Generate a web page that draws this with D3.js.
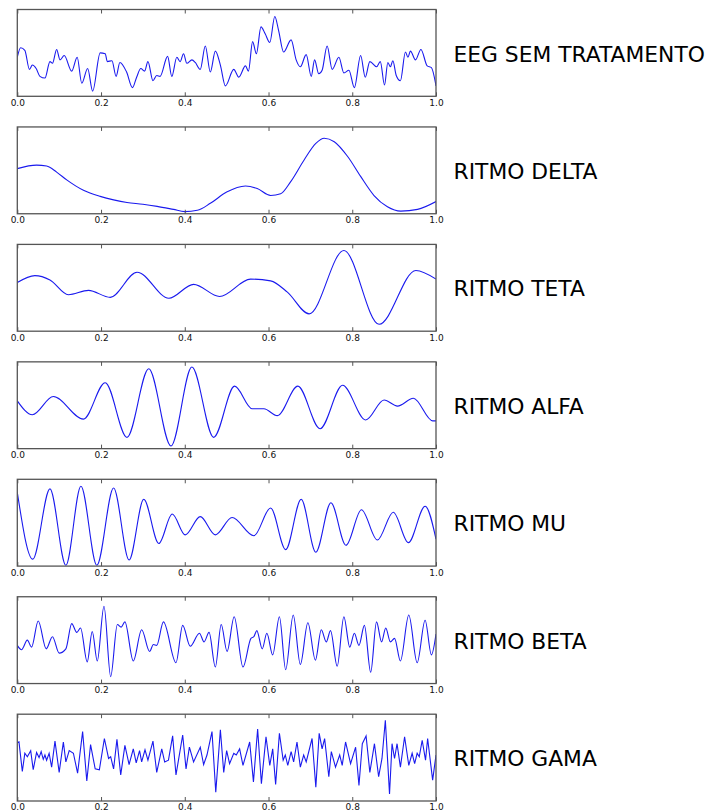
<!DOCTYPE html>
<html>
<head>
<meta charset="utf-8">
<script src="https://cdn.jsdelivr.net/npm/d3@7"></script>
<style>
html,body{margin:0;padding:0;background:#fff;}
svg{display:block;}
</style>
</head>
<body>
<svg id="chart" width="707" height="812"></svg>
<script>
// ---- data (t in [0,1], amplitude in relative units 0-100) ----
const titles = ["EEG SEM TRATAMENTO","RITMO DELTA","RITMO TETA","RITMO ALFA","RITMO MU","RITMO BETA","RITMO GAMA"];
const xTicks = [0.0,0.2,0.4,0.6,0.8,1.0];

const eeg = [[0,45],[.008,56],[.018,53],[.029,31],[.036,36],[.045,32],[.054,23],[.066,21],[.078,40],[.084,38],[.094,54],[.102,42],[.112,47],[.130,29],[.143,45],[.154,15],[.168,32],[.180,6],[.198,50],[.210,49],[.215,40],[.226,41],[.236,23],[.245,39],[.261,28],[.275,10],[.285,22],[.295,32],[.304,29],[.312,40],[.324,18],[.333,24],[.341,23],[.359,46],[.369,23],[.381,45],[.389,40],[.397,49],[.405,38],[.417,42],[.425,39],[.437,31],[.449,58],[.461,28],[.473,52],[.485,36],[.497,12],[.517,31],[.529,22],[.545,35],[.552,29],[.562,63],[.571,49],[.582,80],[.592,72],[.603,62],[.615,92],[.624,76],[.636,51],[.654,65],[.666,42],[.676,34],[.690,48],[.702,23],[.710,42],[.720,26],[.728,30],[.740,58],[.752,31],[.768,45],[.780,27],[.792,30],[.805,10],[.820,47],[.831,22],[.842,40],[.858,34],[.867,40],[.877,13],[.885,39],[.891,34],[.897,41],[.905,24],[.915,18],[.927,51],[.933,45],[.939,52],[.951,42],[.964,54],[.979,35],[.989,33],[1,12]];

const delta = [[0,52],[.046,56],[.07,55],[.094,48],[.118,39],[.158,27],[.198,20],[.23,16],[.262,13],[.30,11],[.334,8.5],[.373,5],[.40,2.5],[.43,4],[.461,12],[.50,25],[.545,32],[.573,29],[.605,21],[.629,23],[.653,37],[.685,62],[.713,81],[.733,87],[.757,83],[.789,66],[.82,43],[.852,21],[.884,8],[.916,3],[.956,5],[1,14]];

const teta = [[0,56],[.042,64],[.078,59],[.122,42],[.17,47],[.222,39],[.286,68],[.362,38],[.421,54],[.483,40],[.557,60],[.605,58],[.645,45],[.697,20],[.78,93],[.864,8],[.952,70],[1,60]];

const alfa = [[0,55],[.036,39],[.086,60],[.158,34],[.21,76],[.262,13],[.314,92],[.367,3],[.417,94],[.469,13],[.519,72],[.561,46],[.589,46],[.621,38],[.67,72],[.723,23],[.777,73],[.832,33],[.876,56],[.908,49],[.946,58],[.992,32],[1,32]];

const mu = [[0,85],[.037,8],[.078,89],[.116,1],[.152,92],[.19,1],[.23,90],[.267,7],[.302,77],[.338,26],[.37,60],[.401,36],[.437,57],[.473,36],[.513,56],[.565,35],[.605,67],[.641,19],[.678,77],[.713,16],[.749,73],[.785,24],[.822,65],[.86,30],[.898,62],[.934,27],[.974,69],[1,31]];

const beta = [[0,44],[.010,39],[.024,50],[.034,42],[.050,72],[.069,40],[.084,54],[.100,35],[.116,40],[.130,69],[.142,59],[.151,64],[.167,25],[.179,60],[.191,26],[.207,89],[.223,8],[.239,68],[.248,65],[.257,71],[.277,26],[.297,62],[.316,37],[.325,45],[.333,44],[.349,71],[.379,24],[.395,67],[.413,43],[.435,58],[.446,48],[.458,59],[.473,19],[.487,68],[.501,37],[.518,77],[.539,19],[.558,52],[.565,54],[.572,61],[.585,40],[.596,58],[.610,33],[.626,77],[.641,16],[.659,79],[.676,22],[.694,70],[.712,27],[.726,62],[.738,48],[.748,61],[.764,20],[.780,77],[.794,42],[.805,58],[.816,44],[.829,67],[.844,13],[.858,71],[.870,48],[.880,64],[.891,48],[.901,52],[.915,26],[.935,79],[.955,24],[.974,73],[.989,33],[1,57]];

const gama = [[0,67],[.004,68],[.012,34],[.018,55],[.024,51],[.032,58],[.038,36],[.046,56],[.052,50],[.057,57],[.062,48],[.066,53],[.070,47],[.076,55],[.082,39],[.090,69],[.100,33],[.110,68],[.116,45],[.124,58],[.134,55],[.144,32],[.156,80],[.166,23],[.175,65],[.186,37],[.196,36],[.208,72],[.218,49],[.223,51],[.230,37],[.238,71],[.247,30],[.257,64],[.267,42],[.277,60],[.284,44],[.292,58],[.297,45],[.305,59],[.312,47],[.324,69],[.333,33],[.345,60],[.352,45],[.361,47],[.371,75],[.379,30],[.395,76],[.403,37],[.411,62],[.421,45],[.437,62],[.445,42],[.453,53],[.465,80],[.474,10],[.485,82],[.493,33],[.500,58],[.507,43],[.517,55],[.523,53],[.531,60],[.539,41],[.555,68],[.564,22],[.574,83],[.583,20],[.594,74],[.603,41],[.610,60],[.617,19],[.626,78],[.635,47],[.640,53],[.646,41],[.654,57],[.660,45],[.668,68],[.676,39],[.684,53],[.690,45],[.704,72],[.713,16],[.721,78],[.728,60],[.734,72],[.744,28],[.750,57],[.760,39],[.770,53],[.776,41],[.784,68],[.796,43],[.808,62],[.816,18],[.824,66],[.833,75],[.842,33],[.853,66],[.863,28],[.871,49],[.879,93],[.889,8],[.895,66],[.901,49],[.907,66],[.915,39],[.925,74],[.935,41],[.943,55],[.949,43],[.955,55],[.960,51],[.967,70],[.975,47],[.980,72],[.992,24],[1,53]];

const series = [eeg, delta, teta, alfa, mu, beta, gama];

// ---- drawing ----
const svg = d3.select("#chart");
const left = 17.3, right = 436;
const panelTop0 = 9.5, panelStep = 117.45, panelH = 86.8;
const curves = [d3.curveMonotoneX, d3.curveMonotoneX, d3.curveMonotoneX, d3.curveMonotoneX, d3.curveMonotoneX, d3.curveMonotoneX, d3.curveLinear];

const x = d3.scaleLinear().domain([0,1]).range([left, right]);

series.forEach((data, i) => {
  const top = panelTop0 + i*panelStep;
  const bottom = top + panelH;
  const y = d3.scaleLinear().domain([0,100]).range([bottom, top]);
  const g = svg.append("g");

  const clipId = "clip" + i;
  g.append("clipPath").attr("id", clipId)
    .append("rect").attr("x", left).attr("y", top).attr("width", right-left).attr("height", panelH);

  const line = d3.line().x(d => x(d[0])).y(d => y(d[1])).curve(curves[i]);
  g.append("path").datum(data)
    .attr("clip-path", `url(#${clipId})`)
    .attr("fill", "none")
    .attr("stroke", "#1a1aee")
    .attr("stroke-width", 1.1)
    .attr("d", line);

  // bottom axis with inward ticks
  const ax = g.append("g").attr("transform", `translate(0,${bottom})`)
    .call(d3.axisBottom(x).tickValues(xTicks).tickFormat(d3.format(".1f"))
      .tickSizeInner(-4).tickSizeOuter(0).tickPadding(3.1));
  ax.select(".domain").remove();
  ax.selectAll("line").attr("stroke", "#555");
  ax.selectAll("text").attr("font-family", "DejaVu Sans").attr("font-size", 9).attr("fill", "#111");

  // top ticks
  const at = g.append("g").attr("transform", `translate(0,${top})`)
    .call(d3.axisTop(x).tickValues(xTicks).tickFormat("").tickSizeInner(-4).tickSizeOuter(0));
  at.select(".domain").remove();
  at.selectAll("line").attr("stroke", "#555");

  // frame
  g.append("rect").attr("x", left).attr("y", top)
    .attr("width", right-left).attr("height", panelH)
    .attr("fill", "none").attr("stroke", "#555").attr("stroke-width", 1.3);

  // title
  svg.append("text").attr("x", 453.5).attr("y", top + 52)
    .attr("font-family", "DejaVu Sans").attr("font-size", 21.8).attr("fill", "#000")
    .text(titles[i]);
});
</script>
</body>
</html>
